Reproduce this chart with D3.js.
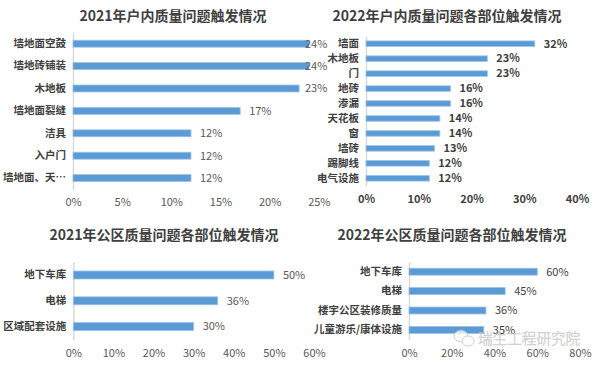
<!DOCTYPE html>
<html>
<head>
<meta charset="utf-8">
<script src="https://cdn.jsdelivr.net/npm/d3@7"></script>
<style>
  body { margin: 0; background: #fff; }
  svg { display: block; font-family: "Microsoft YaHei", "Noto Sans CJK SC", "Noto Sans", sans-serif; }
</style>
</head>
<body>
<div id="chart"></div>
<script>
// data
var cats1 = ["墙地面空鼓", "墙地砖铺装", "木地板", "墙地面裂缝", "洁具", "入户门", "墙地面、天…"];
var vals1 = [24, 24, 23, 17, 12, 12, 12];
var ticks1 = [0, 5, 10, 15, 20, 25];

var cats2 = ["墙面", "木地板", "门", "地砖", "渗漏", "天花板", "窗", "墙砖", "踢脚线", "电气设施"];
var vals2 = [32, 23, 23, 16, 16, 14, 14, 13, 12, 12];
var ticks2 = [0, 10, 20, 30, 40];

var cats3 = ["地下车库", "电梯", "区域配套设施"];
var vals3 = [50, 36, 30];
var ticks3 = [0, 10, 20, 30, 40, 50, 60];

var cats4 = ["地下车库", "电梯", "楼宇公区装修质量", "儿童游乐/康体设施"];
var vals4 = [60, 45, 36, 35];
var ticks4 = [0, 20, 40, 60, 80];

var titles = ["2021年户内质量问题触发情况", "2022年户内质量问题各部位触发情况",
              "2021年公区质量问题各部位触发情况", "2022年公区质量问题各部位触发情况"];

var svg = d3.select("#chart").append("svg")
  .attr("width", 600)
  .attr("height", 366);

// draws one bar chart
function drawBars(opt) {
  var g = svg.append("g");

  g.append("text")
    .attr("x", opt.titleX)
    .attr("y", opt.titleY)
    .attr("dy", "0.35em")
    .attr("text-anchor", "middle")
    .attr("font-size", "14px")
    .attr("font-weight", "bold")
    .attr("fill", "#404040")
    .text(opt.title);

  var x = d3.scaleLinear()
    .domain([0, d3.max(opt.ticks)])
    .range([opt.x0, opt.x1]);

  var y = d3.scaleBand()
    .domain(opt.cats)
    .range([opt.y0, opt.y1])
    .paddingInner(opt.pad)
    .paddingOuter(opt.pad / 2);

  // x axis (labels only)
  var xAxis = g.append("g")
    .attr("transform", `translate(0, ${opt.y1})`)
    .call(d3.axisBottom(x).tickValues(opt.ticks).tickSize(0).tickPadding(opt.tickPad)
      .tickFormat(d => d + "%"));
  xAxis.select(".domain").remove();
  xAxis.selectAll("text")
    .attr("font-size", "11px")
    .attr("font-weight", opt.boldTicks ? "bold" : "normal")
    .attr("fill", opt.boldTicks ? "#404040" : "#595959")
    .attr("font-family", "\"Microsoft YaHei\", \"Noto Sans CJK SC\", sans-serif");

  // y axis with category labels
  var yAxis = g.append("g")
    .attr("transform", `translate(${opt.x0}, 0)`)
    .call(d3.axisLeft(y).tickSize(0).tickPadding(7).tickSizeOuter(0));
  yAxis.select(".domain")
    .attr("stroke", "#d9d9d9")
    .attr("stroke-width", 1.5);
  yAxis.selectAll("text")
    .attr("font-size", "10.5px")
    .attr("font-weight", "bold")
    .attr("fill", "#404040")
    .attr("font-family", "\"Microsoft YaHei\", \"Noto Sans CJK SC\", sans-serif");

  var data = opt.cats.map((c, i) => ({ cat: c, val: opt.vals[i] }));

  g.selectAll("rect.bar")
    .data(data)
    .enter()
    .append("rect")
    .attr("class", "bar")
    .attr("x", x(0))
    .attr("y", d => y(d.cat))
    .attr("width", d => x(d.val) - x(0))
    .attr("height", y.bandwidth())
    .attr("fill", "#5b9bd5")
    .attr("stroke", "#9dc3e6")
    .attr("stroke-width", 0.8);

  g.selectAll("text.val")
    .data(data)
    .enter()
    .append("text")
    .attr("class", "val")
    .attr("x", d => Math.min(x(d.val) + 9, opt.labelMax))
    .attr("y", d => y(d.cat) + y.bandwidth() / 2)
    .attr("dy", "0.35em")
    .attr("font-size", "11px")
    .attr("font-weight", opt.boldVals ? "bold" : "normal")
    .attr("fill", opt.valColor)
    .text(d => d.val + "%");
}

drawBars({ title: titles[0], titleX: 173, titleY: 16, cats: cats1, vals: vals1, ticks: ticks1,
  x0: 73, x1: 318.8, y0: 32.5, y1: 189.3, pad: 0.69, tickPad: 9, labelMax: 305,
  boldTicks: false, boldVals: false, valColor: "#595959" });

drawBars({ title: titles[1], titleX: 447, titleY: 16, cats: cats2, vals: vals2, ticks: ticks2,
  x0: 366, x1: 577, y0: 36.2, y1: 185.8, pad: 0.63, tickPad: 9, labelMax: 600,
  boldTicks: true, boldVals: true, valColor: "#404040" });

drawBars({ title: titles[2], titleX: 164, titleY: 235, cats: cats3, vals: vals3, ticks: ticks3,
  x0: 73.3, x1: 314, y0: 262.1, y1: 339.5, pad: 0.69, tickPad: 9.5, labelMax: 600,
  boldTicks: false, boldVals: false, valColor: "#595959" });

drawBars({ title: titles[3], titleX: 452, titleY: 235, cats: cats4, vals: vals4, ticks: ticks4,
  x0: 409, x1: 580, y0: 262, y1: 339.6, pad: 0.64, tickPad: 10, labelMax: 600,
  boldTicks: false, boldVals: false, valColor: "#404040" });

// watermark (semi-transparent, overlaps the chart like in the picture)
var wm = svg.append("g").attr("opacity", 0.75);
wm.append("ellipse").attr("cx", 461).attr("cy", 336).attr("rx", 7).attr("ry", 6)
  .attr("fill", "white").attr("stroke", "#b8b8b8").attr("stroke-width", 0.9);
wm.append("ellipse").attr("cx", 468).attr("cy", 341).attr("rx", 6).attr("ry", 5)
  .attr("fill", "white").attr("stroke", "#b8b8b8").attr("stroke-width", 0.9);
wm.append("text")
  .attr("x", 478)
  .attr("y", 339)
  .attr("dy", "0.35em")
  .attr("font-size", "14.6px")
  .attr("font-weight", 300)
  .attr("fill", "white")
  .attr("fill-opacity", 0.6)
  .attr("stroke", "#b8b8b8")
  .attr("stroke-width", 0.5)
  .text("瑞生工程研究院");
</script>
</body>
</html>
